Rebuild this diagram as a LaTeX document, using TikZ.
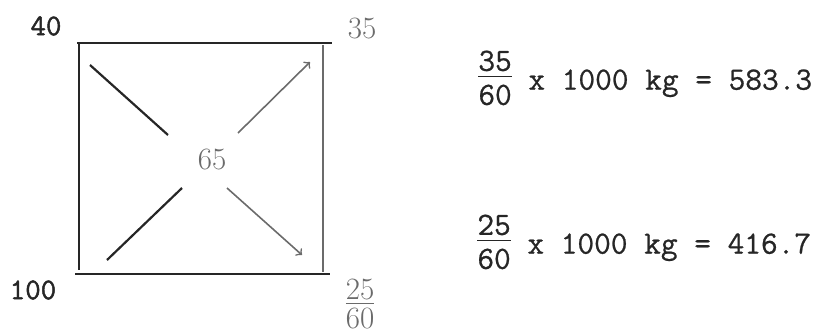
\documentclass[tikz,border=0pt]{standalone}
\usepackage{amsmath,amssymb}
\usepackage{fontspec}
\newfontfamily\typew[FakeBold=0.7]{Latin Modern Mono}
\newfontfamily\typeb[FakeBold=1.6]{Latin Modern Mono}
\usepackage{tikz}
\usepackage{xcolor}
\definecolor{ink}{gray}{0.15}
\definecolor{pale}{gray}{0.42}
\newcommand\stk[3][0.85]{{\renewcommand\arraystretch{#1}\begin{tabular}{@{}c@{}}#2\\[-2.5pt]\hline\noalign{\vskip2pt}#3\end{tabular}}}

\begin{document}
\begin{tikzpicture}[x=0.5pt,y=-0.5pt]
\useasboundingbox (0,0) rectangle (815,333);
\tikzset{dark/.style={ink,line width=1.1pt},light/.style={pale,line width=0.8pt},
  tlabel/.style={font=\typeb\fontsize{15}{17}\selectfont,text=ink,inner sep=0pt},
  rlabel/.style={font=\typew\fontsize{16.2}{18}\selectfont,text=ink,inner sep=0pt},
  glabel/.style={font=\fontsize{15.5}{17}\selectfont,text=pale,inner sep=0pt}}
% the box
\draw[dark] (77,43)--(332,43);\draw[dark] (79,43)--(79,270);
\draw[dark] (75,274)--(330,274);\draw[light] (323,45)--(323,272);
% corner and centre labels
\node[tlabel] (in) at (46,26) {40};
\node[tlabel] (feed) at (33,290) {100};
\node[glabel] (top) at (362,28) {35};
\node[glabel] (mid) at (212,159) {65};
\node[glabel] (bot) at (360,308) {\stk{25}{60}};
% the diagonals
\coordinate (a1) at (90,65);\coordinate (a2) at (168,135);
\coordinate (b1) at (107,260);\coordinate (b2) at (182,188);
\coordinate (c1) at (238,133);\coordinate (c2) at (310,62);
\coordinate (d1) at (227,188);\coordinate (d2) at (302,255);
\draw[dark] (a1)--(a2);
\draw[dark] (b1)--(b2);
\draw[light,->] (c1)--(c2);
\draw[light,->] (d1)--(d2);
% the results
\node[rlabel,anchor=west] (up) at (478,81) {\stk[0.95]{35}{60} x 1000 kg = 583.3};
\node[rlabel,anchor=west] (down) at (477,245) {\stk[0.95]{25}{60} x 1000 kg = 416.7};
\end{tikzpicture}
\end{document}
